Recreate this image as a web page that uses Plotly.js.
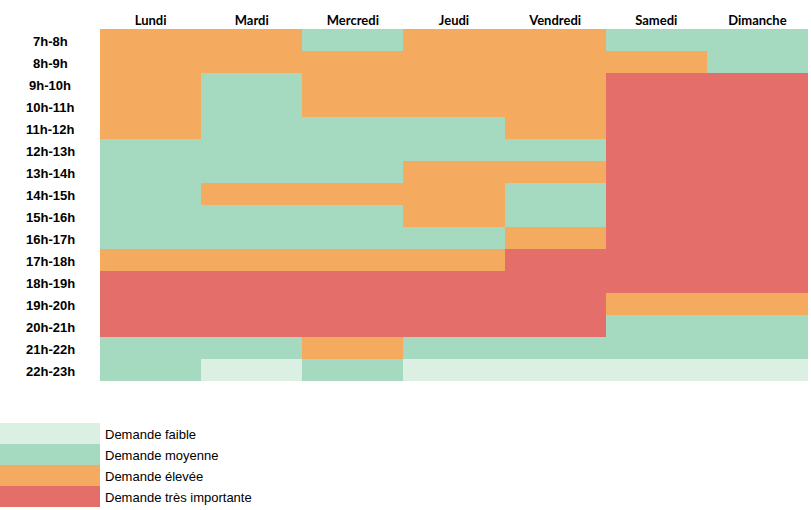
<!DOCTYPE html>
<html><head><meta charset="utf-8">
<script src="https://cdn.plot.ly/plotly-3.0.1.min.js"></script>
<style>html,body{margin:0;padding:0;background:#fff}#chart{width:811px;height:510px}</style>
</head><body><div id="chart"></div>
<script>
const days = ["Lundi","Mardi","Mercredi","Jeudi","Vendredi","Samedi","Dimanche"];
const hours = ["7h-8h","8h-9h","9h-10h","10h-11h","11h-12h","12h-13h","13h-14h","14h-15h","15h-16h","16h-17h","17h-18h","18h-19h","19h-20h","20h-21h","21h-22h","22h-23h"];
// 0 = faible, 1 = moyenne, 2 = élevée, 3 = très importante
const demand = [
  [2,2,1,2,2,1,1],
  [2,2,2,2,2,2,1],
  [2,1,2,2,2,3,3],
  [2,1,2,2,2,3,3],
  [2,1,1,1,2,3,3],
  [1,1,1,1,1,3,3],
  [1,1,1,2,2,3,3],
  [1,2,2,2,1,3,3],
  [1,1,1,2,1,3,3],
  [1,1,1,1,2,3,3],
  [2,2,2,2,3,3,3],
  [3,3,3,3,3,3,3],
  [3,3,3,3,3,2,2],
  [3,3,3,3,3,1,1],
  [1,1,2,1,1,1,1],
  [1,0,1,0,0,0,0]
];
const levelLabels = ["Demande faible","Demande moyenne","Demande élevée","Demande très importante"];
const levelValues = [0,1,2,3];
const levelColors = ["#dbefe3","#a5d9c0","#f4ab5f","#e46e69"];

const cs = [];
levelColors.forEach((c,i)=>{cs.push([i/4,c]);cs.push([(i+1)/4,c]);});

const W=811,H=510;
const traces = [
  {type:'heatmap', x:days, y:hours, z:demand, colorscale:cs, zmin:-0.5, zmax:3.5,
   showscale:false, hoverinfo:'skip', xaxis:'x', yaxis:'y'},
  {type:'heatmap', x:['leg'], y:levelLabels, z:levelValues.map(v=>[v]), colorscale:cs, zmin:-0.5, zmax:3.5,
   showscale:false, hoverinfo:'skip', xaxis:'x2', yaxis:'y2'}
];
const annotations = [];
hours.forEach(h=>annotations.push({xref:'paper', yref:'y', x:50/W, y:h, text:h, showarrow:false, yshift:-1.5,
  xanchor:'center', yanchor:'middle', font:{family:'Liberation Sans, Arial', size:13, color:'#000', weight:'bold'}}));
levelLabels.forEach(l=>annotations.push({xref:'paper', yref:'y2', x:103/W, y:l, text:l, showarrow:false, yshift:-1,
  xanchor:'left', yanchor:'middle', font:{family:'Liberation Sans, Arial', size:13, color:'#000'}}));

const layout = {
  width:W, height:H, margin:{l:0,r:0,t:0,b:0}, paper_bgcolor:'#fff', plot_bgcolor:'#fff',
  showlegend:false,
  xaxis:{domain:[100/W,808/W], side:'top', showgrid:false, zeroline:false, showline:false, ticks:'',
    tickfont:{family:'Lato, Open Sans', size:13, color:'#000', weight:'bold'}, fixedrange:true},
  yaxis:{domain:[129/H,481/H], autorange:'reversed', showgrid:false, zeroline:false, showline:false,
    showticklabels:false, ticks:'', fixedrange:true},
  xaxis2:{domain:[0,100/W], anchor:'y2', visible:false, fixedrange:true},
  yaxis2:{domain:[3/H,87/H], anchor:'x2', autorange:'reversed', visible:false, fixedrange:true},
  annotations:annotations
};
Plotly.newPlot('chart', traces, layout, {displayModeBar:false, staticPlot:true});
</script></body></html>
